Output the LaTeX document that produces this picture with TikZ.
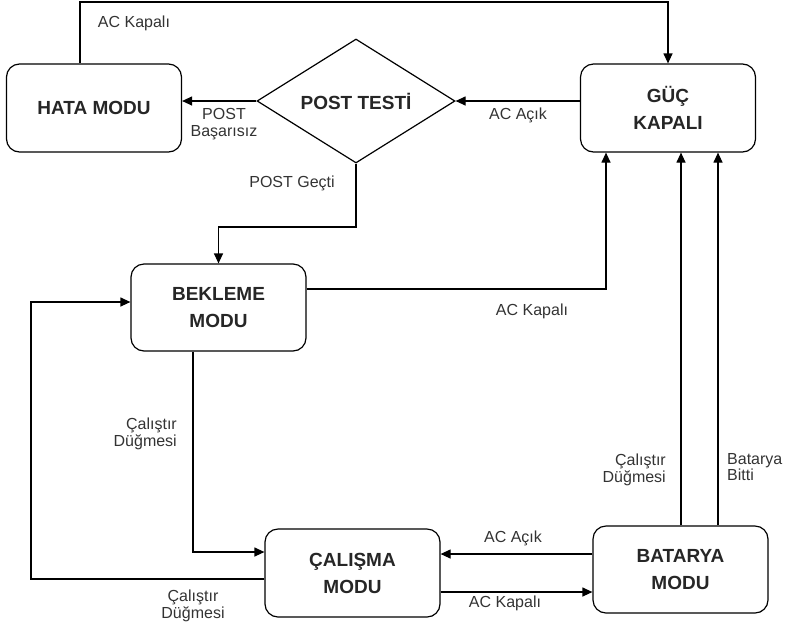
\documentclass[tikz,border=0pt]{standalone}
\usepackage{fontspec}
\setmainfont{Liberation Sans}
\usetikzlibrary{shapes.geometric,arrows.meta}
\begin{document}
\begin{tikzpicture}[x=1pt,y=-1pt,
  statebox/.style={draw=black,line width=1.2pt,rounded corners=13pt,inner sep=0pt,
    minimum width=175pt,minimum height=88pt,align=center,
    font=\fontsize{19}{27}\selectfont\bfseries,text=black!85},
  decbox/.style={draw=black,line width=1.2pt,diamond,aspect=1.6,inner sep=0pt,
    minimum width=198pt,minimum height=124pt,
    font=\fontsize{19}{27}\selectfont\bfseries,text=black!85},
  arr/.style={line width=1.2pt,-{Triangle[length=10pt,width=9pt]}},
  lbl/.style={font=\fontsize{16}{16.5}\selectfont,text=black!80,inner sep=0pt,align=center}]
\useasboundingbox (0,0) rectangle (786,625);

% states
\node[statebox] (hata) at (94,108) {HATA MODU};
\node[decbox] (post) at (356,101) {POST TESTİ};
\node[statebox] (guc) at (668,108) {GÜÇ\\KAPALI};
\node[statebox,minimum height=87pt] (bek) at (218.5,307.5) {BEKLEME\\MODU};
\node[statebox] (cal) at (352.5,573) {ÇALIŞMA\\MODU};
\node[statebox,minimum height=87pt] (bat) at (680.5,569.5) {BATARYA\\MODU};

% routing points
\coordinate (t1) at (80,2);
\coordinate (t2) at (668,2);
\coordinate (k1) at (606,289);
\coordinate (p1) at (356,227);
\coordinate (l1) at (31,579);
\coordinate (l2) at (31,302);
\coordinate (m1) at (193,552);
\coordinate (y1) at (0,554);
\coordinate (y2) at (0,592);
\coordinate (b1) at (681,0);
\coordinate (b2) at (718,0);

% connectors
\draw[arr] (t1 |- hata.north) -- (t1) -- (t2) -- (guc.north);
\draw[arr] (guc.west |- post.east) -- (post.east);
\draw[arr] (post.west) -- (post.west -| hata.east);
\draw[arr] (post.south) -- (p1) -| (bek.north);
\draw[arr] (bek.east |- k1) -- (k1) -- (k1 |- guc.south);
\draw[arr] (cal.west |- l1) -- (l1) -- (l2) -- (l2 -| bek.west);
\draw[arr] (bek.south -| m1) -- (m1) -- (m1 -| cal.west);
\draw[arr] (bat.west |- y1) -- (cal.east |- y1);
\draw[arr] (cal.east |- y2) -- (bat.west |- y2);
\draw[arr] (bat.north -| b1) -- (guc.south -| b1);
\draw[arr] (bat.north -| b2) -- (guc.south -| b2);

% labels
\node[lbl] (la1) at (134,23) {AC Kapalı};
\node[lbl] (la2) at (518,115) {AC Açık};
\node[lbl] (la3) at (224,124) {POST\\Başarısız};
\node[lbl] (la4) at (292,183) {POST Geçti};
\node[lbl] (la5) at (532,311) {AC Kapalı};
\node[lbl,align=right,anchor=east] (la6) at (177,434) {Çalıştır\\Düğmesi};
\node[lbl] (la7) at (193,606) {Çalıştır\\Düğmesi};
\node[lbl] (la8) at (513,538) {AC Açık};
\node[lbl] (la9) at (505,603) {AC Kapalı};
\node[lbl,align=right,anchor=east] (la10) at (666,470) {Çalıştır\\Düğmesi};
\node[lbl,align=left,anchor=west] (la11) at (727,467) {Batarya\\Bitti};
\end{tikzpicture}
\end{document}
